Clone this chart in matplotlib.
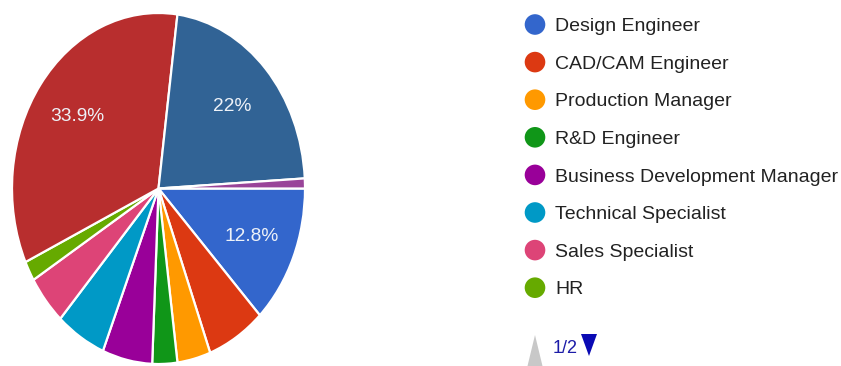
import matplotlib
matplotlib.use("Agg")
import matplotlib.pyplot as plt
from matplotlib.patches import Circle, Polygon

plt.rcParams['font.family'] = ['Liberation Sans', 'DejaVu Sans']

# Responses per role (109 total); legend page 1 lists the first eight roles
roles = ["Design Engineer", "CAD/CAM Engineer", "Production Manager",
         "R&D Engineer", "Business Development Manager",
         "Technical Specialist", "Sales Specialist", "HR"]
role_counts = [14, 7, 4, 3, 6, 6, 5, 2]
# Roles listed on legend page 2
more_counts = [37, 24, 1]

counts = role_counts + more_counts
colors = ["#3366cc", "#dc3912", "#ff9900", "#109618", "#990099",
          "#0099c6", "#dd4477", "#66aa00", "#b82e2e", "#316395", "#994499"]

W, H = 841, 366
fig = plt.figure(figsize=(W / 100, H / 100), dpi=100)

# Pie area (stretched ellipse)
left, right, top, bottom = 12, 305, 13, 364
ax = fig.add_axes([left / W, (H - bottom) / H, (right - left) / W, (bottom - top) / H])


def pct_label(p):
    if p < 10:
        return ""
    s = f"{p:.1f}".rstrip("0").rstrip(".")
    return s + "%"


wedges, texts, autotexts = ax.pie(
    counts, colors=colors, startangle=0, counterclock=False,
    radius=1.0, autopct=pct_label, pctdistance=0.69,
    wedgeprops=dict(edgecolor="white", linewidth=1.6),
    textprops=dict(color="#eef2f8", fontsize=13.8))
ax.set_aspect("auto")
ax.set_xlim(-1, 1)
ax.set_ylim(-1, 1)
ax.axis("off")

# Legend drawn in pixel coordinates
lg = fig.add_axes([0, 0, 1, 1])
lg.set_xlim(0, W)
lg.set_ylim(H, 0)
lg.axis("off")

y0, dy = 24.5, 37.6
for i, (name, c) in enumerate(zip(roles, colors)):
    yc = y0 + i * dy
    lg.add_patch(Circle((535, yc), 10.3, facecolor=c, edgecolor="none"))
    lg.text(555, yc + 6.8, name, fontsize=14, color="#222222",
            va="baseline", ha="left")

# Pager
lg.add_patch(Polygon([[527.5, 366], [542.5, 366], [535, 335]], closed=True,
                     facecolor="#c8c8c8", edgecolor="none"))
lg.text(553, 353, "1/2", fontsize=13, color="#1c1ca8", va="baseline", ha="left")
lg.add_patch(Polygon([[581, 334], [597, 334], [589, 356]], closed=True,
                     facecolor="#0a0ab4", edgecolor="none"))

fig.savefig("out.png", dpi=100)
